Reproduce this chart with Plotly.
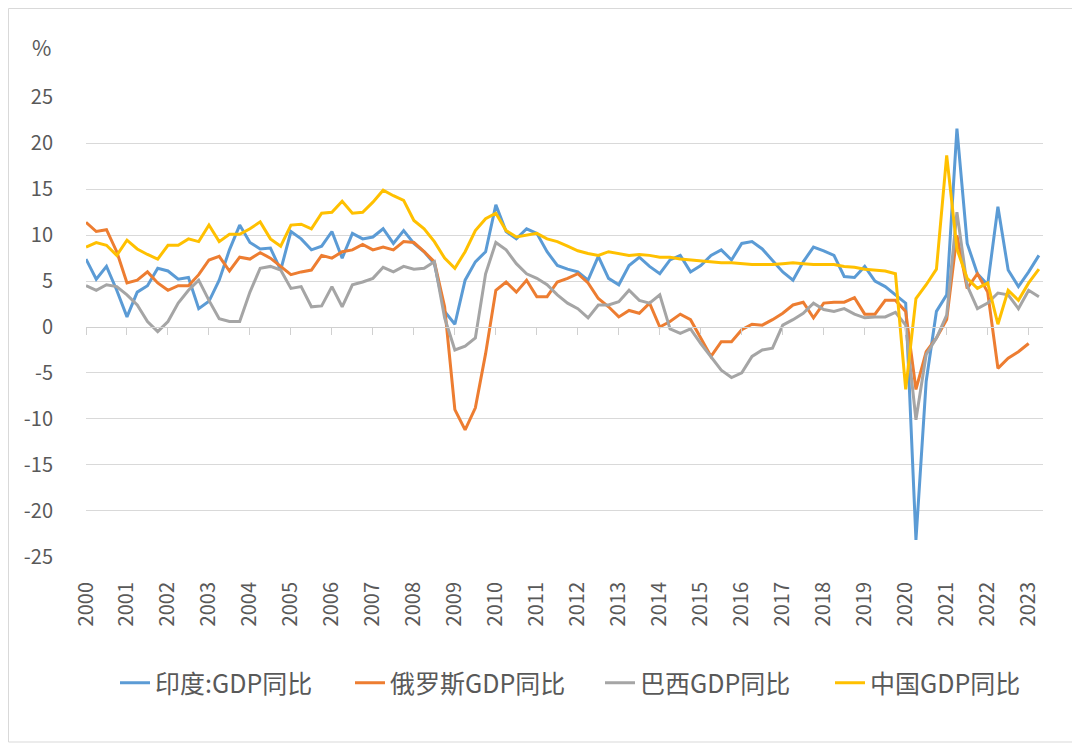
import plotly.graph_objects as go

years = [str(y) for y in range(2000, 2024)]

india = [7.4, 5.2, 6.6, 4.0, 1.1, 3.8, 4.5, 6.4, 6.1, 5.2, 5.4, 2.0, 2.8, 5.1, 8.4, 11.1,
         9.2, 8.5, 8.6, 6.2, 10.4, 9.6, 8.4, 8.8, 10.4, 7.5, 10.2, 9.6, 9.8, 10.7, 9.1, 10.5,
         9.1, 8.2, 6.9, 1.7, 0.3, 5.1, 7.1, 8.2, 13.3, 10.4, 9.6, 10.7, 10.2, 8.2, 6.7, 6.3,
         6.0, 5.1, 7.7, 5.3, 4.6, 6.7, 7.6, 6.6, 5.8, 7.3, 7.8, 6.0, 6.7, 7.8, 8.4, 7.3,
         9.1, 9.3, 8.5, 7.3, 6.0, 5.1, 7.1, 8.7, 8.3, 7.8, 5.5, 5.4, 6.6, 5.0, 4.4, 3.5,
         2.6, -23.2, -5.9, 1.7, 3.5, 21.6, 9.1, 5.8, 4.6, 13.1, 6.2, 4.4, 6.0, 7.8]

russia = [11.4, 10.4, 10.6, 8.2, 4.8, 5.1, 6.0, 4.8, 4.0, 4.5, 4.5, 5.7, 7.3, 7.7, 6.1, 7.6,
          7.4, 8.1, 7.5, 6.6, 5.7, 6.0, 6.2, 7.8, 7.5, 8.2, 8.4, 9.0, 8.4, 8.7, 8.4, 9.3,
          9.2, 8.2, 7.1, 2.2, -9.0, -11.2, -8.8, -2.9, 4.0, 4.9, 3.8, 5.1, 3.3, 3.3, 4.9, 5.3,
          5.8, 4.8, 3.1, 2.2, 1.1, 1.8, 1.5, 2.6, 0.0, 0.6, 1.4, 0.8, -1.2, -3.2, -1.6, -1.6,
          -0.3, 0.3, 0.2, 0.8, 1.5, 2.4, 2.7, 1.0, 2.6, 2.7, 2.7, 3.2, 1.4, 1.4, 2.9, 2.9,
          1.7, -6.8, -2.7, -1.2, 0.8, 10.0, 4.2, 5.8, 3.8, -4.5, -3.4, -2.7, -1.8, None]

brazil = [4.5, 4.0, 4.6, 4.4, 3.5, 2.4, 0.6, -0.5, 0.6, 2.6, 4.0, 5.1, 2.9, 0.9, 0.6, 0.6,
          3.8, 6.4, 6.6, 6.2, 4.2, 4.4, 2.2, 2.3, 4.4, 2.2, 4.6, 4.9, 5.3, 6.5, 6.0, 6.6,
          6.3, 6.4, 7.1, 1.0, -2.5, -2.1, -1.2, 5.8, 9.2, 8.4, 6.9, 5.8, 5.3, 4.6, 3.5, 2.6,
          2.0, 1.0, 2.4, 2.4, 2.75, 4.0, 2.9, 2.6, 3.5, -0.2, -0.7, -0.2, -1.8, -3.2, -4.7, -5.5,
          -5.0, -3.2, -2.5, -2.3, 0.2, 0.8, 1.5, 2.6, 1.9, 1.7, 2.0, 1.4, 1.0, 1.1, 1.1, 1.6,
          0.2, -10.1, -3.0, -1.2, 1.3, 12.5, 4.5, 2.0, 2.6, 3.7, 3.5, 2.0, 4.0, 3.3]

china = [8.7, 9.2, 8.9, 7.8, 9.45, 8.5, 7.9, 7.4, 8.9, 8.9, 9.6, 9.3, 11.1, 9.3, 10.1, 10.1,
         10.7, 11.45, 9.6, 8.8, 11.1, 11.2, 10.7, 12.4, 12.5, 13.7, 12.4, 12.5, 13.6, 14.9, 14.3, 13.8,
         11.6, 10.7, 9.3, 7.5, 6.4, 8.2, 10.5, 11.8, 12.4, 10.5, 9.8, 10.0, 10.2, 9.6, 9.3, 8.8,
         8.3, 8.0, 7.8, 8.2, 8.0, 7.8, 7.9, 7.8, 7.6, 7.6, 7.4, 7.3, 7.2, 7.1, 7.0, 7.0,
         6.9, 6.8, 6.8, 6.8, 6.9, 7.0, 6.9, 6.8, 6.8, 6.8, 6.6, 6.5, 6.3, 6.2, 6.1, 5.8,
         -6.8, 3.1, 4.6, 6.3, 18.7, 8.5, 5.3, 4.2, 4.8, 0.3, 4.0, 2.9, 4.8, 6.3]

names = ["印度:GDP同比", "俄罗斯GDP同比", "巴西GDP同比", "中国GDP同比"]
colors = ["#5B9BD5", "#ED7D31", "#A5A5A5", "#FFC000"]
series = [india, russia, brazil, china]

y_ticks = list(range(-25, 30, 5))
y_ticktext = [str(v) for v in y_ticks]

quarters = list(range(len(india)))
tickvals = [4 * k for k in range(len(years))]

# page has an 8px body margin: figure placed at (8, 8)
OFF = 8
W, H = 1080 - OFF, 748 - OFF
L, R, T, B = 86 - OFF, 1043 - OFF, 97 - OFF, 557 - OFF
def px_x(px):
    return (px - OFF - L) / (R - L)
def px_y(py):
    return (B - (py - OFF)) / (B - T)

FONT = "Noto Sans CJK SC"
TXT = "#595959"

fig = go.Figure()
legend_x = [115, 350, 600, 830]
for k, (nm, col, vals) in enumerate(zip(names, colors, series)):
    fig.add_trace(go.Scatter(
        x=quarters, y=vals, mode="lines", name=nm,
        line=dict(color=col, width=3),
        xaxis="x2" if k == 3 else "x",
        legend="legend" if k == 0 else f"legend{k+1}",
        connectgaps=False,
    ))

leg_common = dict(orientation="h", yanchor="middle", xanchor="left",
                  font=dict(family=FONT, size=25, color=TXT),
                  bgcolor="rgba(0,0,0,0)")
layout_legends = {}
for k in range(4):
    key = "legend" if k == 0 else f"legend{k+1}"
    layout_legends[key] = dict(leg_common, x=px_x(legend_x[k]), y=px_y(683))

fig.update_layout(
    width=W, height=H,
    margin=dict(l=L, r=W - R, t=T, b=H - B),
    paper_bgcolor="white", plot_bgcolor="white",
    font=dict(family=FONT, color=TXT, size=20),
    xaxis=dict(range=[0, 93.4], tickmode="array", tickvals=tickvals, ticktext=years,
               tickangle=-90, showgrid=False, zeroline=False, showline=False,
               ticks="", ticklabelstandoff=20,
               tickfont=dict(family=FONT, size=20, color=TXT)),
    xaxis2=dict(overlaying="x", matches="x", anchor="free", position=0.5,
                tickmode="array", tickvals=tickvals, showticklabels=False,
                showgrid=False, zeroline=False, showline=True, linecolor="#d0d0d0",
                linewidth=1, ticks="outside", ticklen=7, tickcolor="#d0d0d0", tickwidth=1),
    yaxis=dict(range=[-25.05, 25.05], tickmode="array", tickvals=y_ticks, ticktext=y_ticktext,
               showgrid=True, gridcolor="#d9d9d9", gridwidth=1, zeroline=False,
               showline=False, ticks="", ticklabelstandoff=32,
               tickfont=dict(family=FONT, size=20, color=TXT)),
    showlegend=True,
    **layout_legends,
)

fig.add_annotation(text="%", x=px_x(53), y=px_y(47), xref="paper", yref="paper",
                   xanchor="right", yanchor="middle", showarrow=False,
                   font=dict(family=FONT, size=21, color=TXT))

fig.add_shape(type="rect", xref="paper", yref="paper",
              x0=px_x(OFF + 0.5), x1=px_x(1075), y0=px_y(742), y1=px_y(OFF + 0.5),
              line=dict(color="#d9d9d9", width=1), layer="below")

fig.write_html("out.html")
